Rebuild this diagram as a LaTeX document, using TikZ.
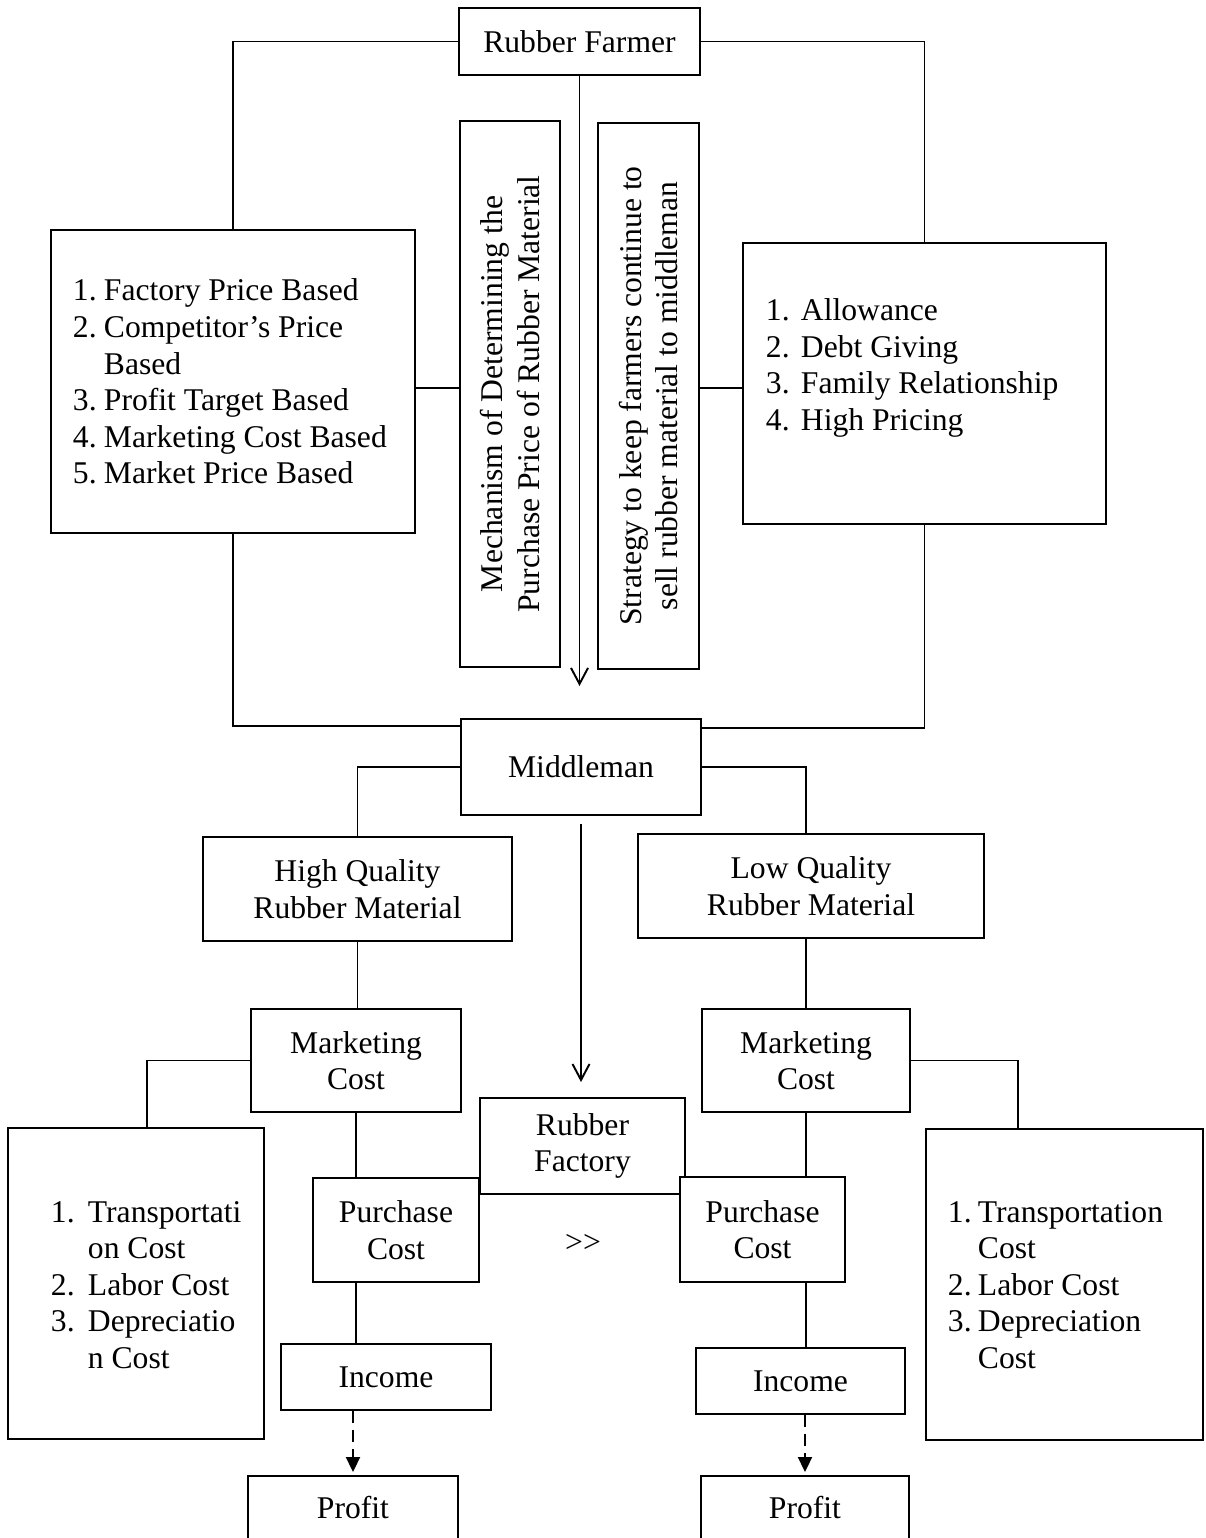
\documentclass[tikz,border=0pt]{standalone}
\usepackage{fontspec}
\setmainfont{Liberation Serif}
\usetikzlibrary{arrows.meta}

\begin{document}
\begin{tikzpicture}[x=0.02cm,y=-0.02cm,line width=1.1pt,
  main node/.style={draw,rectangle,fill=white,inner sep=0pt,align=center,font=\fontsize{18}{20.8}\selectfont},
  list node/.style={inner sep=0pt,anchor=west,font=\fontsize{18}{20.8}\selectfont},
  side node/.style={main node,rotate=90,minimum width=10.92cm},
  open arrow/.style={-{Straight Barb[length=0.32cm,width=0.34cm]}},
  dash arrow/.style={dash pattern=on 0.24cm off 0.14cm,-{Triangle[length=0.3cm,width=0.28cm]}}]

            \useasboundingbox (0,0) rectangle (1205,1538);

            \node[main node,minimum width=4.82cm,minimum height=1.34cm] (farmer) at (579.5,41.5) {Rubber Farmer};
            \node[side node,minimum height=2cm] (mech) at (510,394) {Mechanism of Determining the\\Purchase Price of Rubber Material};
            \node[side node,minimum height=2.02cm] (strat) at (648.5,396) {Strategy to keep farmers continue to\\sell rubber material to middleman};

            \node[main node,minimum width=7.28cm,minimum height=6.06cm] (pricing) at (233,381.5) {};
            \node[list node] (pricing list) at (72,385) {\begin{tabular}{@{}p{0.62cm}@{}l@{}}
                1.&Factory Price Based\\2.&Competitor's Price\\&Based\\3.&Profit Target Based\\4.&Marketing Cost Based\\5.&Market Price Based
                \end{tabular}};
            \node[main node,minimum width=7.26cm,minimum height=5.62cm] (tricks) at (924.5,383.5) {};
            \node[list node] (tricks list) at (765,368) {\begin{tabular}{@{}p{0.70cm}@{}l@{}}
                1.&Allowance\\2.&Debt Giving\\3.&Family Relationship\\4.&High Pricing
                \end{tabular}};

            \node[main node,minimum width=4.8cm,minimum height=1.92cm] (mid) at (581,767) {Middleman};
            \node[main node,minimum width=6.18cm,minimum height=2.08cm] (high) at (357.5,889) {High Quality\\Rubber Material};
            \node[main node,minimum width=6.92cm,minimum height=2.08cm] (low) at (811,886) {Low Quality\\Rubber Material};
            \node[main node,minimum width=4.2cm,minimum height=2.06cm] (mktL) at (356,1060.5) {Marketing\\Cost};
            \node[main node,minimum width=4.16cm,minimum height=2.06cm] (mktR) at (806,1060.5) {Marketing\\Cost};

            \node[main node,minimum width=4.1cm,minimum height=1.92cm] (factory) at (582.5,1146) {Rubber\\Factory};
            \node[main node,minimum width=3.32cm,minimum height=2.08cm] (purL) at (396,1230) {Purchase\\Cost};
            \node[main node,minimum width=3.3cm,minimum height=2.1cm] (purR) at (762.5,1229.5) {Purchase\\Cost};
            \node[font=\fontsize{18}{20.8}\selectfont] (gt) at (583,1243) {{>}{>}};

            \node[main node,minimum width=5.12cm,minimum height=6.22cm] (costL) at (136,1283.5) {};
            \node[list node] (costL list) at (50,1288) {\begin{tabular}{@{}p{0.74cm}@{}l@{}}
                1.&Transportati\\&on Cost\\2.&Labor Cost\\3.&Depreciatio\\&n Cost
                \end{tabular}};
            \node[main node,minimum width=5.54cm,minimum height=6.22cm] (costR) at (1064.5,1284.5) {};
            \node[list node] (costR list) at (947,1288) {\begin{tabular}{@{}p{0.60cm}@{}l@{}}
                1.&Transportation\\&Cost\\2.&Labor Cost\\3.&Depreciation\\&Cost
                \end{tabular}};

            \node[main node,minimum width=4.2cm,minimum height=1.32cm] (incL) at (386,1377) {Income};
            \node[main node,minimum width=4.18cm,minimum height=1.32cm] (incR) at (800.5,1381) {Income};
            \node[main node,minimum width=4.2cm,minimum height=1.28cm] (profL) at (353,1508) {Profit};
            \node[main node,minimum width=4.16cm,minimum height=1.28cm] (profR) at (805,1508) {Profit};

            \coordinate (mid arrow) at (579.5,686);

            \draw (farmer.west) -| (pricing.north);
            \draw (farmer.east) -| (tricks.north);
            \draw[open arrow] (farmer.south) -- (mid arrow);
            \draw (pricing.south) |- ([yshift=-0.16cm]mid.north west);
            \draw (tricks.south) |- ([yshift=-0.2cm]mid.north east);
            \draw (mid.west) -| (high.north);
            \draw (mid.east) -| (mktR.north |- low.north);
            \draw[open arrow,shorten <=0.16cm,shorten >=0.3cm] (mid.south) -- (mid.south |- factory.north);
            \draw (mktL.west) -| ([xshift=0.22cm]costL.north);
            \draw (mktR.east) -| ([xshift=-0.93cm]costR.north);

            \path
                (pricing.east |- 0,388) edge (mech.north |- 0,388)
                (strat.south |- 0,388) edge (tricks.west |- 0,388)
                (high.south) edge (high.south |- mktL.north)
                (mktR.north |- low.south) edge (mktR.north)
                (mktL.south) edge (mktL.south |- purL.north)
                (mktL.south |- purL.south) edge (mktL.south |- incL.north)
                (mktR.south) edge (mktR.south |- purR.north)
                (mktR.south |- purR.south) edge (mktR.south |- incR.north)
                ;

            \draw[dash arrow,shorten >=0.06cm] (profL.north |- incL.south) -- (profL.north);
            \draw[dash arrow,shorten >=0.06cm] (profR.north |- incR.south) -- (profR.north);
        \end{tikzpicture}
\end{document}
